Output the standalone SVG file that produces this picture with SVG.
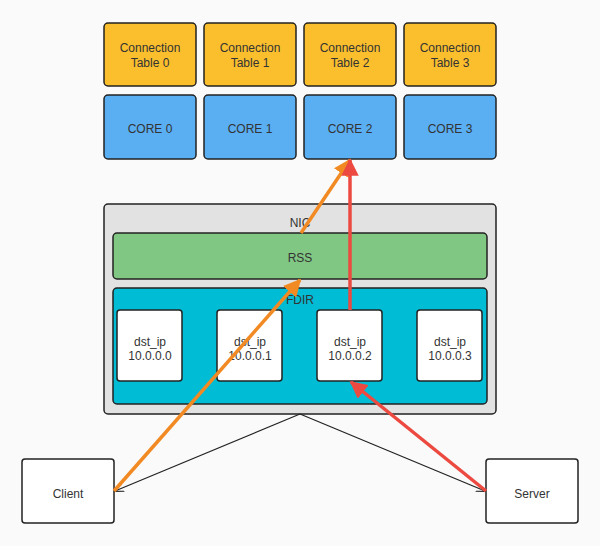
<svg xmlns="http://www.w3.org/2000/svg" width="600" height="546" viewBox="0 0 600 546">
<defs>
<style>
text{font-family:"Liberation Sans",Arial,sans-serif;font-size:12px;fill:#333;text-anchor:middle}
.b{stroke:#222;stroke-width:1.5}
.t{fill:#fbbf2d}.c{fill:#5aaef2}.w{fill:#fff}
</style>
<marker id="ab" viewBox="0 0 10 10" refX="9" refY="5" markerWidth="8" markerHeight="8" orient="auto"><path d="M0,1L10,5L0,9" fill="none" stroke="#222" stroke-width="1.2"/></marker>
<marker id="ao" viewBox="0 0 10 10" refX="9" refY="5" markerWidth="5" markerHeight="5" orient="auto"><path d="M0,0L10,5L0,10z" fill="#f28a24"/></marker>
<marker id="ar" viewBox="0 0 10 10" refX="9" refY="5" markerWidth="5" markerHeight="5" orient="auto"><path d="M0,0L10,5L0,10z" fill="#ec4a41"/></marker>
</defs>
<rect width="600" height="546" fill="#fafafa"/>
<g id="ct0"><rect class="b t" x="104" y="23" width="92" height="63" rx="4"/><text x="150" y="52">Connection</text><text x="150" y="67">Table 0</text></g>
<g id="ct1"><rect class="b t" x="204" y="23" width="92" height="63" rx="4"/><text x="250" y="52">Connection</text><text x="250" y="67">Table 1</text></g>
<g id="ct2"><rect class="b t" x="304" y="23" width="92" height="63" rx="4"/><text x="350" y="52">Connection</text><text x="350" y="67">Table 2</text></g>
<g id="ct3"><rect class="b t" x="404" y="23" width="92" height="63" rx="4"/><text x="450" y="52">Connection</text><text x="450" y="67">Table 3</text></g>
<g id="core0"><rect class="b c" x="104" y="95" width="92" height="64" rx="4"/><text x="150" y="133">CORE 0</text></g>
<g id="core1"><rect class="b c" x="204" y="95" width="92" height="64" rx="4"/><text x="250" y="133">CORE 1</text></g>
<g id="core2"><rect class="b c" x="304" y="95" width="92" height="64" rx="4"/><text x="350" y="133">CORE 2</text></g>
<g id="core3"><rect class="b c" x="404" y="95" width="92" height="64" rx="4"/><text x="450" y="133">CORE 3</text></g>
<g id="nic"><rect class="b" fill="#e2e2e2" x="104" y="204" width="392" height="210" rx="4"/><text x="300" y="227">NIC</text></g>
<g id="rss"><rect class="b" fill="#81c784" x="113" y="233" width="374" height="46" rx="4"/><text x="300" y="262">RSS</text></g>
<g id="fdir"><rect class="b" fill="#00bcd4" x="113" y="288" width="374" height="116" rx="4"/><text x="300" y="304">FDIR</text></g>
<g id="d0"><rect class="b w" x="117" y="310" width="65" height="71" rx="3"/><text x="150" y="346">dst_ip</text><text x="150" y="360">10.0.0.0</text></g>
<g id="d1"><rect class="b w" x="217" y="310" width="65" height="71" rx="3"/><text x="250" y="346">dst_ip</text><text x="250" y="360">10.0.0.1</text></g>
<g id="d2"><rect class="b w" x="317" y="310" width="65" height="71" rx="3"/><text x="350" y="346">dst_ip</text><text x="350" y="360">10.0.0.2</text></g>
<g id="d3"><rect class="b w" x="417" y="310" width="65" height="71" rx="3"/><text x="450" y="346">dst_ip</text><text x="450" y="360">10.0.0.3</text></g>
<g id="client"><rect class="b w" x="22" y="459" width="92" height="64" rx="3"/><text x="68" y="498">Client</text></g>
<g id="server"><rect class="b w" x="486" y="459" width="92" height="64" rx="3"/><text x="532" y="498">Server</text></g>
<g id="connectors" fill="none">
<path d="M300,414L115,491" stroke="#222" stroke-width="1.2" marker-end="url(#ab)"/>
<path d="M300,414L485,491" stroke="#222" stroke-width="1.2" marker-end="url(#ab)"/>
<path d="M114,491L300,280" stroke="#f28a24" stroke-width="3.5" marker-end="url(#ao)"/>
<path d="M301,233L350,160" stroke="#f28a24" stroke-width="3.5" marker-end="url(#ao)"/>
<path d="M486,491L351,382" stroke="#ec4a41" stroke-width="3.5" marker-end="url(#ar)"/>
<path d="M350,310L350,160" stroke="#ec4a41" stroke-width="3.5" marker-end="url(#ar)"/>
</g>
</svg>
